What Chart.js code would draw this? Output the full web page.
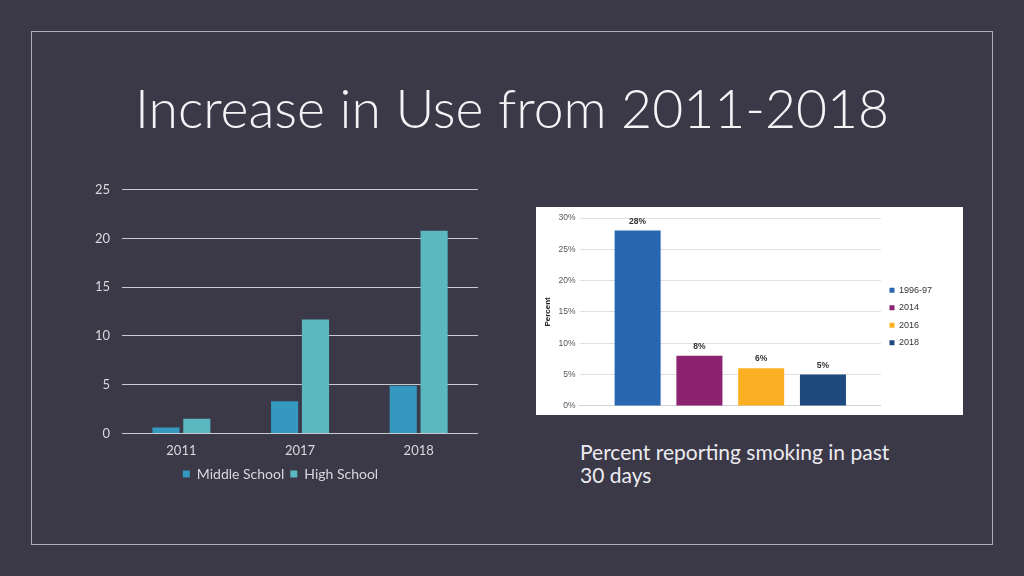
<!DOCTYPE html>
<html>
<head>
<meta charset="utf-8">
<script src="https://cdn.jsdelivr.net/npm/chart.js@4/dist/chart.umd.min.js"></script>
<style>
  body { margin: 0; width: 1024px; height: 576px; background: #3b3848; overflow: hidden; position: relative; font-family: "Lato", "Open Sans", sans-serif; }
  #frame { position: absolute; left: 31px; top: 31px; width: 960px; height: 512px; border: 1.5px solid #aeacb8; }
  #title { position: absolute; left: 135px; top: 75px; font-size: 53.5px; font-weight: 300; color: #f4f4f6; white-space: nowrap; }
  #left { position: absolute; left: 80px; top: 170px; width: 410px; height: 321px; }
  #rightBox { position: absolute; left: 536px; top: 207px; width: 427px; height: 208px; background: #ffffff; }
  #right { position: absolute; left: 0; top: 0; width: 427px; height: 208px; }
  #caption { position: absolute; left: 580px; top: 440px; font-size: 21px; line-height: 23px; color: #ececf0; }
</style>
</head>
<body>
<div id="frame"></div>
<div id="title">Increase in Use from 2011-2018</div>
<div id="left"><canvas id="useChart"></canvas></div>
<div id="rightBox"><div id="right"><canvas id="smokeChart"></canvas></div></div>
<div id="caption">Percent reporting smoking in past<br>30 days</div>
<script>
// left chart: use by school level
const years = ["2011", "2017", "2018"];
const middleSchool = [0.6, 3.3, 4.9];
const highSchool = [1.5, 11.7, 20.8];
const useTicks = [0, 5, 10, 15, 20, 25];

// right chart: percent reporting smoking in past 30 days
const smokeLabels = ["1996-97", "2014", "2016", "2018"];
const smokeValues = [28, 8, 6, 5];
const smokeColors = ["#2a67b1", "#8c2270", "#fbb024", "#1f4a7f"];

const valueLabels = {
    id: "valueLabels",
    afterDatasetsDraw(chart) {
        const ctx = chart.ctx;
        ctx.save();
        ctx.font = "bold 8.5px 'Liberation Sans', sans-serif";
        ctx.fillStyle = "#333333";
        ctx.textAlign = "center";
        ctx.textBaseline = "bottom";
        chart.data.datasets.forEach((ds, i) => {
            chart.getDatasetMeta(i).data.forEach((bar, j) => {
                ctx.fillText(ds.data[j] + "%", bar.x, bar.y - 5);
            });
        });
        ctx.restore();
    }
};

function initUseChart() {
    const ctx = document.getElementById("useChart");
    new Chart(ctx, {
        type: "bar",
        data: {
            labels: years,
            datasets: [
                { label: "Middle School", data: middleSchool, backgroundColor: "#3598bf" },
                { label: "High School", data: highSchool, backgroundColor: "#5bb7c0" }
            ]
        },
        options: {
            responsive: true,
            maintainAspectRatio: false,
            animation: false,
            categoryPercentage: 0.52,
            barPercentage: 0.88,
            layout: { padding: { left: 3, right: 12, top: 4, bottom: 0 } },
            plugins: {
                legend: {
                    position: "bottom",
                    labels: { color: "#d8d8de", boxWidth: 7, boxHeight: 7, padding: 6, font: { size: 14, family: "Lato" } }
                },
                tooltip: { enabled: false }
            },
            scales: {
                x: {
                    grid: { display: false },
                    border: { display: false },
                    ticks: { color: "#d8d8de", font: { size: 13, family: "Lato" }, padding: 2 }
                },
                y: {
                    min: 0,
                    max: 25,
                    afterBuildTicks: axis => { axis.ticks = useTicks.map(v => ({ value: v })); },
                    grid: { color: "#c9c9d0", lineWidth: 1, drawTicks: false },
                    border: { display: false },
                    ticks: { color: "#d8d8de", font: { size: 13, family: "Lato" }, padding: 12 }
                }
            }
        }
    });
}

function initSmokeChart() {
    const ctx = document.getElementById("smokeChart");
    let datasets = [];
    smokeLabels.forEach((label, i) => {
        datasets.push({ label: label, data: [smokeValues[i]], backgroundColor: smokeColors[i] });
    });
    new Chart(ctx, {
        type: "bar",
        data: { labels: [""], datasets: datasets },
        options: {
            responsive: true,
            maintainAspectRatio: false,
            animation: false,
            categoryPercentage: 0.82,
            barPercentage: 0.745,
            layout: { padding: { left: 7, right: 21, top: 11, bottom: 0 } },
            plugins: {
                legend: {
                    position: "right",
                    labels: { color: "#333333", boxWidth: 5, boxHeight: 5, padding: 8.5, font: { size: 9, family: "'Liberation Sans', sans-serif" } }
                },
                tooltip: { enabled: false }
            },
            scales: {
                x: {
                    grid: { display: false },
                    border: { color: "#d0d0d0" },
                    ticks: { display: false }
                },
                y: {
                    min: 0,
                    max: 30,
                    ticks: { stepSize: 5, color: "#555555", padding: 4, font: { size: 8.5, family: "'Liberation Sans', sans-serif" }, callback: v => v + "%" },
                    grid: { color: "#e0e0e0", drawTicks: false },
                    border: { display: false },
                    title: { display: true, text: "Percent", color: "#222222", padding: { top: 0, bottom: 2 }, font: { size: 8, weight: "bold", family: "'Liberation Sans', sans-serif" } }
                }
            }
        },
        plugins: [valueLabels]
    });
}

initUseChart();
initSmokeChart();
</script>
</body>
</html>
